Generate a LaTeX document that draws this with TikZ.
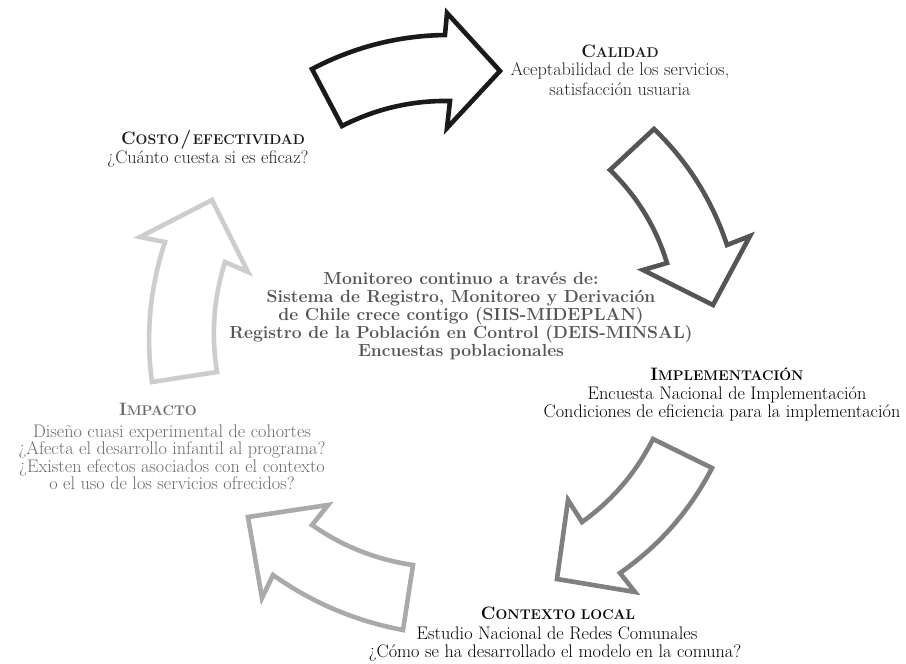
\documentclass[tikz,border=0pt]{standalone}
\usepackage{fontspec}
\setmainfont{Latin Modern Roman}
\definecolor{c1}{HTML}{1A1A1A}
\definecolor{c2}{HTML}{555555}
\definecolor{c3}{HTML}{808080}
\definecolor{c4}{HTML}{AAAAAA}
\definecolor{c5}{HTML}{CDCDCD}
\definecolor{txtdark}{HTML}{222222}
\definecolor{impgray}{HTML}{6A6A6A}
\definecolor{midgray}{HTML}{555555}
\newcommand{\hdsc}[2]{{\fontsize{18}{20}\selectfont #1}{\fontsize{14}{20}\selectfont #2}}
\begin{document}
\begin{tikzpicture}[x=1pt,y=-1pt,
  blockarrow/.style={line width=4.6pt, line join=miter, fill=white},
  body/.style={font=\fontsize{18.2}{18}\selectfont, anchor=base, inner sep=0pt},
  head/.style={font=\bfseries, anchor=base, inner sep=0pt},
  mid/.style={font=\bfseries\fontsize{17.5}{17}\selectfont, anchor=base, inner sep=0pt, text=midgray}]
\useasboundingbox[fill=white] (0,0) rectangle (906,664);

% arrows
\draw[blockarrow, draw=c1] (312,69) .. controls (354,47) and (398.3,35.7) .. (445,35) -- (447,13) -- (500,71) -- (447,128) -- (450,101) .. controls (412,100.3) and (376,108.7) .. (342,126) -- cycle;
\draw[blockarrow, draw=c2] (654,129) .. controls (687.9,161.6) and (712.2,200.3) .. (727,245) -- (750,236) -- (713,305) -- (643,270) -- (667,263) .. controls (656,227.1) and (637,196.1) .. (610,170) -- cycle;
\draw[blockarrow, draw=c3] (712,468) .. controls (690.1,510.5) and (659.4,545.5) .. (620,573) -- (635,592) -- (557,579) -- (568,500) -- (582,522) .. controls (612.5,500.3) and (636.1,472.6) .. (653,439) -- cycle;
\draw[blockarrow, draw=c4] (403,630) .. controls (355.5,621.1) and (312.2,602.7) .. (273,575) -- (262,598) -- (248,517) -- (328,505) -- (312,525) .. controls (342.5,546.3) and (376.2,559.6) .. (413,565) -- cycle;
\draw[blockarrow, draw=c5] (152,382) .. controls (145.5,334.4) and (149.9,287.7) .. (165,242) -- (140,237) -- (212,200) -- (248,272) -- (225,262) .. controls (213.7,298.1) and (211,334.7) .. (217,372) -- cycle;

% Calidad
\node[head, text=c1] (calh) at (620,57) {\hdsc{C}{ALIDAD}};
\node[body, text=txtdark] (cal1) at (620,75) {Aceptabilidad de los servicios,};
\node[body, text=txtdark] (cal2) at (620,95) {satisfacción usuaria};

% Costo
\node[head, text=c1] (cosh) at (213,144) {\hdsc{C}{OSTO}\kern1.5pt{\fontsize{19}{20}\selectfont/}\kern1.5pt\hdsc{}{EFECTIVIDAD}};
\node[body, text=txtdark] (cos1) at (208,163.5) {¿Cuánto cuesta si es eficaz?};

% centre
\node[mid] (m1) at (461,284) {Monitoreo continuo a través de:};
\node[mid] (m2) at (461,302) {Sistema de Registro, Monitoreo y Derivación};
\node[mid] (m3) at (461,320) {de Chile crece contigo (SIIS-MIDEPLAN)};
\node[mid] (m4) at (461,338) {Registro de la Población en Control (DEIS-MINSAL)};
\node[mid] (m5) at (461,356) {Encuestas poblacionales};

% Implementacion
\node[head, text=black] (imph) at (727,380) {\hdsc{I}{MPLEMENTACIÓN}};
\node[body, text=black] (imp1) at (727,399) {Encuesta Nacional de Implementación};
\node[body, text=black] (imp2) at (722,417) {Condiciones de eficiencia para la implementación};

% Impacto
\node[head, text=impgray] (ipah) at (158,415) {\hdsc{I}{MPACTO}};
\node[body, text=impgray] (ipa1) at (172,437) {Diseño cuasi experimental de cohortes};
\node[body, text=impgray] (ipa2) at (172,454.5) {¿Afecta el desarrollo infantil al programa?};
\node[body, text=impgray] (ipa3) at (172,472) {¿Existen efectos asociados con el contexto};
\node[body, text=impgray] (ipa4) at (172,489.5) {o el uso de los servicios ofrecidos?};

% Contexto
\node[head, text=black] (conh) at (558,619) {\hdsc{C}{ONTEXTO LOCAL}};
\node[body, text=black] (con1) at (557,639) {Estudio Nacional de Redes Comunales};
\node[body, text=black] (con2) at (555,657) {¿Cómo se ha desarrollado el modelo en la comuna?};
\end{tikzpicture}
\end{document}
